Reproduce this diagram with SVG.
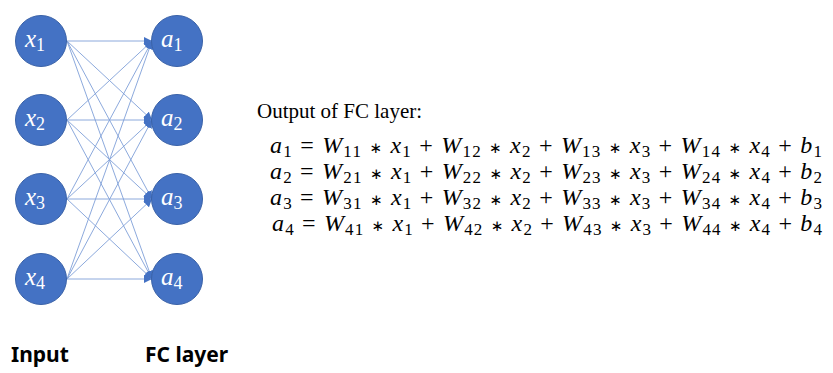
<svg xmlns="http://www.w3.org/2000/svg" width="833" height="373" viewBox="0 0 833 373">
<style>
.node circle{fill:#4472c4;stroke:#3a62a8;stroke-width:1}
.nl{font-family:"Liberation Serif",serif;font-style:italic;font-size:25px;fill:#fff}
.ns{font-family:"Liberation Serif",serif;font-size:18px;fill:#fff;font-style:normal}
.conn line{stroke:#7f9fd8;stroke-width:0.9;marker-end:url(#ah)}
.eq{font-family:"Liberation Serif",serif;font-size:24px;fill:#000}
.v{font-style:italic}
.s{font-size:17px}
.m{font-family:"DejaVu Sans",sans-serif;font-size:15px}
.lbl{font-family:"Noto Sans","Liberation Sans",sans-serif;font-weight:bold;font-size:21px;fill:#000}
</style>
<defs>
<marker id="ah" viewBox="0 0 10 10" refX="10" refY="5" markerWidth="8" markerHeight="8" markerUnits="userSpaceOnUse" orient="auto">
<path d="M0,0 L10,5 L0,10 z" fill="#4472c4"/>
</marker>
</defs>
<g class="conn">
<line x1="67" y1="41" x2="152" y2="41"/><line x1="67" y1="41" x2="152" y2="120"/><line x1="67" y1="41" x2="152" y2="199"/><line x1="67" y1="41" x2="152" y2="279"/>
<line x1="67" y1="120" x2="152" y2="41"/><line x1="67" y1="120" x2="152" y2="120"/><line x1="67" y1="120" x2="152" y2="199"/><line x1="67" y1="120" x2="152" y2="279"/>
<line x1="67" y1="199" x2="152" y2="41"/><line x1="67" y1="199" x2="152" y2="120"/><line x1="67" y1="199" x2="152" y2="199"/><line x1="67" y1="199" x2="152" y2="279"/>
<line x1="67" y1="279" x2="152" y2="41"/><line x1="67" y1="279" x2="152" y2="120"/><line x1="67" y1="279" x2="152" y2="199"/><line x1="67" y1="279" x2="152" y2="279"/>
</g>
<g id="x1" class="node"><circle cx="41" cy="41" r="25.5"/><text x="25" y="47" class="nl">x<tspan class="ns" dy="4">1</tspan></text></g>
<g id="x2" class="node"><circle cx="41" cy="120" r="25.5"/><text x="25" y="126" class="nl">x<tspan class="ns" dy="4">2</tspan></text></g>
<g id="x3" class="node"><circle cx="41" cy="199" r="25.5"/><text x="25" y="205" class="nl">x<tspan class="ns" dy="4">3</tspan></text></g>
<g id="x4" class="node"><circle cx="41" cy="279" r="25.5"/><text x="25" y="285" class="nl">x<tspan class="ns" dy="4">4</tspan></text></g>
<g id="a1" class="node"><circle cx="177" cy="41" r="25.5"/><text x="161" y="47" class="nl">a<tspan class="ns" dy="4">1</tspan></text></g>
<g id="a2" class="node"><circle cx="177" cy="120" r="25.5"/><text x="161" y="126" class="nl">a<tspan class="ns" dy="4">2</tspan></text></g>
<g id="a3" class="node"><circle cx="177" cy="199" r="25.5"/><text x="161" y="205" class="nl">a<tspan class="ns" dy="4">3</tspan></text></g>
<g id="a4" class="node"><circle cx="177" cy="279" r="25.5"/><text x="161" y="285" class="nl">a<tspan class="ns" dy="4">4</tspan></text></g>
<g id="equations">
<text x="257" y="118" class="eq" style="font-size:21px">Output of FC layer:</text>
<text x="270" y="153" class="eq" textLength="552" lengthAdjust="spacing"><tspan class="v">a</tspan><tspan class="s" dy="4">1</tspan><tspan dy="-4"> = </tspan><tspan class="v">W</tspan><tspan class="s" dy="4">11</tspan><tspan dy="-4"> </tspan><tspan class="m">∗</tspan><tspan> </tspan><tspan class="v">x</tspan><tspan class="s" dy="4">1</tspan><tspan dy="-4"> + </tspan><tspan class="v">W</tspan><tspan class="s" dy="4">12</tspan><tspan dy="-4"> </tspan><tspan class="m">∗</tspan><tspan> </tspan><tspan class="v">x</tspan><tspan class="s" dy="4">2</tspan><tspan dy="-4"> + </tspan><tspan class="v">W</tspan><tspan class="s" dy="4">13</tspan><tspan dy="-4"> </tspan><tspan class="m">∗</tspan><tspan> </tspan><tspan class="v">x</tspan><tspan class="s" dy="4">3</tspan><tspan dy="-4"> + </tspan><tspan class="v">W</tspan><tspan class="s" dy="4">14</tspan><tspan dy="-4"> </tspan><tspan class="m">∗</tspan><tspan> </tspan><tspan class="v">x</tspan><tspan class="s" dy="4">4</tspan><tspan dy="-4"> + </tspan><tspan class="v">b</tspan><tspan class="s" dy="4">1</tspan></text>
<text x="270" y="179" class="eq" textLength="552" lengthAdjust="spacing"><tspan class="v">a</tspan><tspan class="s" dy="4">2</tspan><tspan dy="-4"> = </tspan><tspan class="v">W</tspan><tspan class="s" dy="4">21</tspan><tspan dy="-4"> </tspan><tspan class="m">∗</tspan><tspan> </tspan><tspan class="v">x</tspan><tspan class="s" dy="4">1</tspan><tspan dy="-4"> + </tspan><tspan class="v">W</tspan><tspan class="s" dy="4">22</tspan><tspan dy="-4"> </tspan><tspan class="m">∗</tspan><tspan> </tspan><tspan class="v">x</tspan><tspan class="s" dy="4">2</tspan><tspan dy="-4"> + </tspan><tspan class="v">W</tspan><tspan class="s" dy="4">23</tspan><tspan dy="-4"> </tspan><tspan class="m">∗</tspan><tspan> </tspan><tspan class="v">x</tspan><tspan class="s" dy="4">3</tspan><tspan dy="-4"> + </tspan><tspan class="v">W</tspan><tspan class="s" dy="4">24</tspan><tspan dy="-4"> </tspan><tspan class="m">∗</tspan><tspan> </tspan><tspan class="v">x</tspan><tspan class="s" dy="4">4</tspan><tspan dy="-4"> + </tspan><tspan class="v">b</tspan><tspan class="s" dy="4">2</tspan></text>
<text x="270" y="205" class="eq" textLength="552" lengthAdjust="spacing"><tspan class="v">a</tspan><tspan class="s" dy="4">3</tspan><tspan dy="-4"> = </tspan><tspan class="v">W</tspan><tspan class="s" dy="4">31</tspan><tspan dy="-4"> </tspan><tspan class="m">∗</tspan><tspan> </tspan><tspan class="v">x</tspan><tspan class="s" dy="4">1</tspan><tspan dy="-4"> + </tspan><tspan class="v">W</tspan><tspan class="s" dy="4">32</tspan><tspan dy="-4"> </tspan><tspan class="m">∗</tspan><tspan> </tspan><tspan class="v">x</tspan><tspan class="s" dy="4">2</tspan><tspan dy="-4"> + </tspan><tspan class="v">W</tspan><tspan class="s" dy="4">33</tspan><tspan dy="-4"> </tspan><tspan class="m">∗</tspan><tspan> </tspan><tspan class="v">x</tspan><tspan class="s" dy="4">3</tspan><tspan dy="-4"> + </tspan><tspan class="v">W</tspan><tspan class="s" dy="4">34</tspan><tspan dy="-4"> </tspan><tspan class="m">∗</tspan><tspan> </tspan><tspan class="v">x</tspan><tspan class="s" dy="4">4</tspan><tspan dy="-4"> + </tspan><tspan class="v">b</tspan><tspan class="s" dy="4">3</tspan></text>
<text x="272" y="231" class="eq" textLength="550" lengthAdjust="spacing"><tspan class="v">a</tspan><tspan class="s" dy="4">4</tspan><tspan dy="-4"> = </tspan><tspan class="v">W</tspan><tspan class="s" dy="4">41</tspan><tspan dy="-4"> </tspan><tspan class="m">∗</tspan><tspan> </tspan><tspan class="v">x</tspan><tspan class="s" dy="4">1</tspan><tspan dy="-4"> + </tspan><tspan class="v">W</tspan><tspan class="s" dy="4">42</tspan><tspan dy="-4"> </tspan><tspan class="m">∗</tspan><tspan> </tspan><tspan class="v">x</tspan><tspan class="s" dy="4">2</tspan><tspan dy="-4"> + </tspan><tspan class="v">W</tspan><tspan class="s" dy="4">43</tspan><tspan dy="-4"> </tspan><tspan class="m">∗</tspan><tspan> </tspan><tspan class="v">x</tspan><tspan class="s" dy="4">3</tspan><tspan dy="-4"> + </tspan><tspan class="v">W</tspan><tspan class="s" dy="4">44</tspan><tspan dy="-4"> </tspan><tspan class="m">∗</tspan><tspan> </tspan><tspan class="v">x</tspan><tspan class="s" dy="4">4</tspan><tspan dy="-4"> + </tspan><tspan class="v">b</tspan><tspan class="s" dy="4">4</tspan></text>
</g>
<g id="labels">
<text x="11" y="362" class="lbl">Input</text>
<text x="145" y="362" class="lbl">FC layer</text>
</g>
</svg>
